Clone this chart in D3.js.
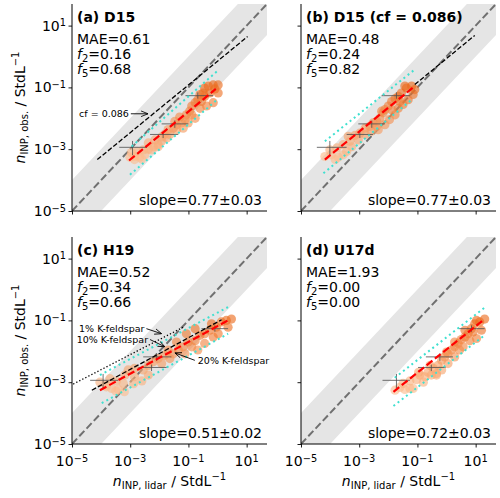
<!DOCTYPE html>
<html><head><meta charset="utf-8">
<script src="https://cdn.jsdelivr.net/npm/d3@7"></script>
<style>
body{margin:0;background:#fff}
svg{display:block}
text{font-family:"DejaVu Sans",sans-serif;fill:#000}
</style>
</head><body>
<svg id="chart" width="500" height="498"></svg>
<script>
// ---------------- DATA ----------------
const axisMin = 1e-5, axisMax = 50;
const tickValues = [1e-5, 1e-3, 1e-1, 1e1];
const tickLabels = [["10","\u22125"],["10","\u22123"],["10","\u22121"],["10","1"]];

const panelIds = ["a","b","c","d"];
const titles = ["(a) D15","(b) D15 (cf = 0.086)","(c) H19","(d) U17d"];
const maeValues = ["0.61","0.48","0.52","1.93"];
const f2Values = ["0.16","0.24","0.34","0.00"];
const f5Values = ["0.68","0.82","0.66","0.00"];
const slopeLabels = ["0.77\u00b10.03","0.77\u00b10.03","0.51\u00b10.02","0.72\u00b10.03"];

// scatter points (n_INP,lidar, n_INP,obs.)
const xA = [9.8e-4,1.4e-3,2.1e-3,3.2e-3,4.2e-3,6.2e-3,9.1e-3,4.2e-3,7.1e-3,1.2e-2,1.5e-2,2.0e-2,3.0e-2,3.9e-2,5.8e-2,7.6e-2,8.5e-2,0.11,0.13,0.17,0.21,0.25,0.32,0.36,0.48,0.71,1.05,1.05,0.71,0.42,0.25,0.36,0.17,9.8e-2,6.6e-2,3.9e-2,2.3e-2,1.2e-2,1.8e-2,9.1e-3,5.4e-3,2.8e-3,1.7e-3,1.1e-3,1.4e-3,2.5e-3,0.54,0.81,0.28,3.4e-2,5.0e-2,0.13];
const yA = [5.5e-4,5.8e-4,5.5e-4,6.6e-4,1.0e-3,1.2e-3,1.4e-3,1.6e-3,2.0e-3,2.5e-3,3.0e-3,4.3e-3,4.8e-3,6.2e-3,7.1e-3,8.9e-3,1.3e-2,1.7e-2,2.5e-2,3.2e-2,4.0e-2,5.9e-2,6.6e-2,9.5e-2,0.11,0.12,0.12,6.6e-2,3.2e-2,2.5e-2,2.1e-2,5.1e-2,1.0e-2,7.1e-3,4.8e-3,4.3e-3,3.0e-3,1.8e-3,2.3e-3,1.2e-3,9.5e-4,9.5e-4,8.5e-4,7.8e-4,4.6e-4,4.8e-4,6.6e-2,8.9e-2,3.5e-2,7.9e-3,1.1e-2,1.3e-2];

const xB = [6.6e-5,1.1e-4,1.9e-4,2.8e-4,9.8e-5,1.7e-4,2.8e-4,4.8e-4,4.2e-4,7.1e-4,1.05e-3,1.6e-3,2.3e-3,3.0e-3,4.0e-3,5.1e-3,6.6e-3,7.6e-3,1.0e-2,1.3e-2,1.7e-2,2.2e-2,2.8e-2,4.2e-2,6.3e-2,8.1e-2,7.1e-2,4.8e-2,3.2e-2,2.2e-2,1.7e-2,1.1e-2,7.6e-3,4.5e-3,2.6e-3,1.6e-3,9.3e-4,5.5e-4,3.7e-4,1.5e-4,3.7e-2,5.9e-3,1.3e-2,2.5e-2,4.0e-3];
const yB = [5.8e-4,6.6e-4,5.5e-4,6.6e-4,9.5e-4,1.1e-3,1.4e-3,1.8e-3,2.6e-3,2.8e-3,3.3e-3,4.8e-3,5.5e-3,7.1e-3,7.9e-3,1.0e-2,1.5e-2,1.9e-2,2.5e-2,3.5e-2,4.3e-2,5.1e-2,6.6e-2,9.5e-2,0.11,8.5e-2,5.9e-2,4.0e-2,2.8e-2,2.1e-2,1.3e-2,9.1e-3,6.2e-3,4.3e-3,3.8e-3,3.0e-3,2.0e-3,1.2e-3,8.5e-4,4.6e-4,0.11,1.7e-2,1.9e-2,3.5e-2,5.5e-3];

const xC = [9.1e-5,1.5e-4,2.3e-4,3.9e-4,2.0e-4,3.4e-4,6.6e-4,8.5e-4,1.4e-3,2.5e-3,2.8e-3,4.2e-3,6.2e-3,9.1e-3,1.5e-2,2.3e-2,3.0e-2,4.5e-2,6.6e-2,9.8e-2,0.13,0.17,0.25,0.36,0.54,0.71,0.91,1.35,2.0,3.0,2.3,0.36,0.21,7.6e-2,1.2e-2,4.2e-3,1.4e-3,5.8e-4,2.0e-2,3.9e-2,8.5e-2,0.17,0.62,1.05,1.5e-4,3.2e-4,6.3e-4,1.3e-3];
const yC = [1.0e-3,7.9e-4,6.3e-4,5.8e-4,1.3e-3,1.1e-3,1.7e-3,2.5e-3,1.5e-3,1.1e-3,2.5e-3,3.5e-3,4.6e-3,5.8e-3,7.4e-3,5.8e-3,8.3e-3,1.1e-2,1.4e-2,2.0e-2,1.4e-2,2.2e-2,3.3e-2,3.7e-2,4.8e-2,2.9e-2,6.0e-2,8.9e-2,0.10,0.11,6.0e-2,1.8e-2,1.1e-2,8.3e-3,4.0e-3,1.7e-3,2.8e-3,9.1e-4,1.1e-2,2.0e-2,3.7e-2,5.4e-2,7.8e-2,3.7e-2,7.1e-4,5.2e-4,4.9e-4,8.9e-4];

const xD = [1.7e-2,2.5e-2,3.7e-2,5.5e-2,3.2e-2,5.5e-2,9.3e-2,0.12,0.18,0.23,0.35,0.45,0.51,0.68,0.87,1.12,1.48,1.9,2.5,3.2,4.3,5.5,7.1,9.3,10.7,13.8,20.4,15.8,10.7,6.3,3.7,2.8,1.9,1.12,0.68,0.45,0.30,0.16,7.1e-2,1.9,4.3,8.1,1.0,0.27,0.11];
const yD = [5.5e-4,6.8e-4,5.8e-4,6.3e-4,9.1e-4,1.1e-3,1.2e-3,1.7e-3,1.5e-3,2.1e-3,2.8e-3,1.9e-3,3.5e-3,5.1e-3,6.6e-3,8.3e-3,1.1e-2,1.4e-2,1.8e-2,2.4e-2,2.9e-2,3.7e-2,5.4e-2,7.8e-2,0.10,8.9e-2,0.11,4.8e-2,2.6e-2,2.2e-2,1.4e-2,1.1e-2,6.6e-3,4.0e-3,2.5e-3,1.7e-3,1.7e-3,1.0e-3,6.3e-4,2.0e-2,4.8e-2,4.2e-2,9.5e-3,3.5e-3,2.1e-3];

// error bars: centre x, x low, x high (per panel); shared obs. y centre, y low, y high
const errY = [1.15e-3,3.0e-3,6.6e-3,5.4e-2];
const errYlo = [6.4e-4,2.3e-3,4.9e-3,4.3e-2];
const errYhi = [1.85e-3,3.7e-3,8.5e-3,6.9e-2];
const errXA = [1.2e-3,1.35e-2,3.4e-2,0.21], errXloA = [4.2e-4,4.8e-3,1.2e-2,7.9e-2], errXhiA = [3.8e-3,4.5e-2,0.10,0.71];
const errXB = [9.8e-5,1.05e-3,2.7e-3,1.9e-2], errXloB = [3.5e-5,3.7e-4,9.3e-4,5.9e-3], errXhiB = [3.7e-4,3.0e-3,7.6e-3,5.5e-2];
const errXC = [1.17e-4,5.4e-3,8.1e-3,0.81], errXloC = [4.2e-5,1.9e-3,2.8e-3,0.28], errXhiC = [3.9e-4,1.8e-2,2.6e-2,2.3];
const errXD = [1.9e-2,0.30,0.59,7.2], errXloD = [6.3e-3,0.105,0.195,2.7], errXhiD = [5.5e-2,0.93,1.66,20.4];

// fitted line (red) endpoints
const fitX = [[9.1e-4,0.87],[6.6e-5,7.6e-2],[9.1e-5,2.3],[1.5e-2,17.8]];
const fitY = [[4.3e-4,8.9e-2],[4.6e-4,0.105],[5.5e-4,0.10],[4.9e-4,0.10]];
// prediction bounds (cyan dotted): upper and lower endpoints
const upX = [[1.12e-3,0.95],[6.6e-5,8.1e-2],[9.1e-5,2.3],[1.66e-2,20.4]];
const upY = [[1.23e-3,0.33],[1.8e-3,0.38],[1.7e-3,0.27],[1.4e-3,0.26]];
const loX = [[9.8e-4,0.97],[5.9e-5,6.3e-2],[1.05e-4,2.3],[1.5e-2,20.4]];
const loY = [[1.5e-4,4.0e-2],[1.66e-4,4.0e-2],[2.1e-4,3.7e-2],[1.7e-4,3.3e-2]];
// parameterisation lines (black)
const paramA = {x:[7.4e-5,10.7], y:[4.6e-4,4.4]};
const paramB = {x:[8.1e-2,9.3], y:[0.123,4.8]};
const kfs10 = {x:[4.8e-5,1.38], y:[5.5e-4,0.105]};
const kfs1 = {x:[1.1e-5,6.6e-2], y:[8.7e-4,6.0e-2]};
// annotations (text, arrow tail x,y, arrow tip x,y)
const annA = [{t:"cf = 0.086", x0:1.05e-3, y0:1.4e-2, x1:4.1e-3, y1:1.4e-2, side:"left"}];
const annC = [
  {t:"1% K-feldspar", x0:3.6e-3, y0:5.4e-2, x1:1.2e-2, y1:3.7e-2, side:"left"},
  {t:"10% K-feldspar", x0:4.8e-3, y0:2.4e-2, x1:1.55e-2, y1:1.4e-2, side:"left"},
  {t:"20% K-feldspar", x0:0.166, y0:5.1e-3, x1:3.4e-2, y1:8.9e-3, side:"right"}
];

// ---------------- LAYOUT ----------------
const colX = [[72,267],[301,496]];
const rowY = [[211,4],[444,237]];

const svg = d3.select("#chart");
const defs = svg.append("defs");
defs.append("marker").attr("id","arr").attr("viewBox","0 0 10 10")
  .attr("refX",10).attr("refY",5).attr("markerWidth",7).attr("markerHeight",7)
  .attr("orient","auto-start-reverse").attr("markerUnits","userSpaceOnUse")
  .append("path").attr("d","M0,1 L10,5 L0,9").attr("fill","none").attr("stroke","#000").attr("stroke-width",1.2);

const colorScale = d3.scaleLog().domain([5e-4,0.1]).range(["#fbbd90","#ec6a1c"]).clamp(true);

const panelData = [
  {x:xA,y:yA,ex:errXA,elo:errXloA,ehi:errXhiA},
  {x:xB,y:yB,ex:errXB,elo:errXloB,ehi:errXhiB},
  {x:xC,y:yC,ex:errXC,elo:errXloC,ehi:errXhiC},
  {x:xD,y:yD,ex:errXD,elo:errXloD,ehi:errXhiD}
];

function supText(sel, base, sup, size){
  sel.append("tspan").text(base);
  sel.append("tspan").attr("dy","-0.45em").attr("font-size",size*0.7).text(sup);
}

panelIds.forEach((id,i)=>{
  const col = i%2, row = Math.floor(i/2);
  const x = d3.scaleLog().domain([axisMin,axisMax]).range(colX[col]);
  const y = d3.scaleLog().domain([axisMin,axisMax]).range(rowY[row]);
  const g = svg.append("g");
  const clipId = "clip"+id;
  defs.append("clipPath").attr("id",clipId).append("rect")
    .attr("x",colX[col][0]).attr("y",rowY[row][1])
    .attr("width",colX[col][1]-colX[col][0]).attr("height",rowY[row][0]-rowY[row][1]);
  const pg = g.append("g").attr("clip-path",`url(#${clipId})`);
  const line = d3.line().x(d=>x(d[0])).y(d=>y(d[1]));

  // factor-10 band
  const bandX = [1e-6, 1e3];
  const band = [[bandX[0],bandX[0]*10],[bandX[1],bandX[1]*10],[bandX[1],bandX[1]/10],[bandX[0],bandX[0]/10]];
  pg.append("path").attr("d",line(band)+"Z").attr("fill","#e5e5e5");
  // 1:1 line
  pg.append("path").attr("d",line([[axisMin,axisMin],[axisMax,axisMax]]))
    .attr("stroke","#707070").attr("stroke-width",2).attr("stroke-dasharray","7.4,3.2").attr("fill","none");

  const pd = panelData[i];
  // points
  pg.append("g").selectAll("circle").data(pd.x.map((v,k)=>[v,pd.y[k]])).join("circle")
    .attr("cx",d=>x(d[0])).attr("cy",d=>y(d[1])).attr("r",4.6)
    .attr("fill",d=>colorScale(d[1])).attr("fill-opacity",0.62);

  // error bars
  const eb = pg.append("g").attr("stroke","#4d4d4d").attr("stroke-width",1).attr("stroke-opacity",0.8);
  pd.ex.forEach((v,k)=>{
    eb.append("line").attr("x1",x(pd.elo[k])).attr("x2",x(pd.ehi[k])).attr("y1",y(errY[k])).attr("y2",y(errY[k]));
    eb.append("line").attr("x1",x(v)).attr("x2",x(v)).attr("y1",y(errYlo[k])).attr("y2",y(errYhi[k]));
  });

  // cyan bounds
  [[upX[i],upY[i]],[loX[i],loY[i]]].forEach(([xx,yy])=>{
    pg.append("path").attr("d",line([[xx[0],yy[0]],[xx[1],yy[1]]]))
      .attr("stroke","#40e0d0").attr("stroke-width",2).attr("stroke-dasharray","2,3.3").attr("fill","none");
  });

  // parameterisation lines
  function blackLine(p, dash){
    pg.append("path").attr("d",line([[p.x[0],p.y[0]],[p.x[1],p.y[1]]]))
      .attr("stroke","#000").attr("stroke-width",1.3).attr("stroke-dasharray",dash).attr("fill","none");
  }
  if(id==="a") blackLine(paramA,"4.8,2.1");
  if(id==="b") blackLine(paramB,"4.8,2.1");
  if(id==="c"){ blackLine(kfs1,"1.3,2.1"); blackLine(kfs10,"4.8,2.1"); }

  // red fit
  pg.append("path").attr("d",line([[fitX[i][0],fitY[i][0]],[fitX[i][1],fitY[i][1]]]))
    .attr("stroke","#ff0000").attr("stroke-width",2.2).attr("stroke-dasharray","7.4,3.2").attr("fill","none");

  // annotations
  const anns = id==="a" ? annA : (id==="c" ? annC : []);
  anns.forEach(a=>{
    g.append("line").attr("x1",x(a.x0)).attr("y1",y(a.y0)).attr("x2",x(a.x1)).attr("y2",y(a.y1))
      .attr("stroke","#000").attr("stroke-width",0.9).attr("marker-end","url(#arr)");
    g.append("text").attr("x",x(a.x0)+(a.side==="left"?-2:3)).attr("y",y(a.y0)+3.5)
      .attr("text-anchor",a.side==="left"?"end":"start").attr("font-size",9.5).text(a.t);
  });

  // axes
  const xAxis = d3.axisBottom(x).tickValues(tickValues).tickSize(3.5).tickFormat("");
  const yAxis = d3.axisLeft(y).tickValues(tickValues).tickSize(3.5).tickFormat("");
  const gx = g.append("g").attr("transform",`translate(0,${rowY[row][0]})`).call(xAxis);
  const gy = g.append("g").attr("transform",`translate(${colX[col][0]},0)`).call(yAxis);
  [gx,gy].forEach(a=>{
    a.select(".domain").attr("stroke","#000").attr("stroke-width",1);
    a.selectAll(".tick line").attr("stroke","#000").attr("stroke-width",0.9);
  });
  gx.select(".domain").attr("d",`M${colX[col][0]},0H${colX[col][1]}`);
  gy.select(".domain").attr("d",`M0,${rowY[row][0]}V${rowY[row][1]}`);

  if(row===1){
    tickValues.forEach((t,k)=>{
      const tx = g.append("text").attr("x",x(t)).attr("y",rowY[row][0]+22).attr("text-anchor","middle").attr("font-size",14);
      supText(tx, tickLabels[k][0], tickLabels[k][1], 14);
    });
    const xl = g.append("text").attr("x",(colX[col][0]+colX[col][1])/2).attr("y",486).attr("text-anchor","middle").attr("font-size",14);
    xl.append("tspan").attr("font-style","italic").text("n");
    xl.append("tspan").attr("font-size",10).attr("dy","3").text("INP, lidar");
    xl.append("tspan").attr("dy","-3").text(" / StdL");
    xl.append("tspan").attr("font-size",10).attr("dy","-6").text("\u22121");
  }
  if(col===0){
    tickValues.forEach((t,k)=>{
      const ty = g.append("text").attr("x",colX[col][0]-6).attr("y",y(t)+5).attr("text-anchor","end").attr("font-size",14);
      supText(ty, tickLabels[k][0], tickLabels[k][1], 14);
    });
    const cy = (rowY[row][0]+rowY[row][1])/2;
    const yl = g.append("text").attr("transform",`translate(25,${cy}) rotate(-90)`).attr("text-anchor","middle").attr("font-size",14);
    yl.append("tspan").attr("font-style","italic").text("n");
    yl.append("tspan").attr("font-size",10).attr("dy","3").text("INP, obs.");
    yl.append("tspan").attr("dy","-3").text(" / StdL");
    yl.append("tspan").attr("font-size",10).attr("dy","-6").text("\u22121");
  }

  // panel texts
  const left = colX[col][0]+5, bottom = rowY[row][0];
  g.append("text").attr("x",left).attr("y",bottom-189).attr("font-size",14).attr("font-weight","bold").text(titles[i]);
  g.append("text").attr("x",left).attr("y",bottom-167.5).attr("font-size",14).text("MAE="+maeValues[i]);
  [["2",f2Values[i],152.5],["5",f5Values[i],137]].forEach(([s,v,off])=>{
    const t = g.append("text").attr("x",left).attr("y",bottom-off).attr("font-size",14);
    t.append("tspan").attr("font-style","italic").text("f");
    t.append("tspan").attr("font-size",10).attr("dy","3").text(s);
    t.append("tspan").attr("dy","-3").text("="+v);
  });
  g.append("text").attr("x",colX[col][1]-5).attr("y",bottom-6).attr("text-anchor","end").attr("font-size",14).text("slope="+slopeLabels[i]);
});
</script>
</body></html>
